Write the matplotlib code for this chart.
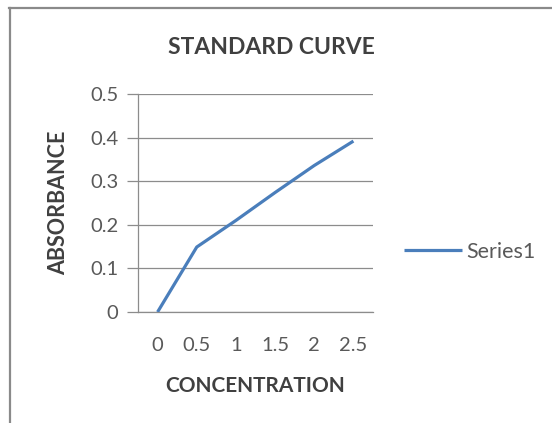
import matplotlib
matplotlib.use("Agg")
import matplotlib.pyplot as plt
from matplotlib.lines import Line2D

plt.rcParams['font.family'] = ['Lato', 'DejaVu Sans']

# Standard curve readings
concentration = ["0", "0.5", "1", "1.5", "2", "2.5"]
absorbance = [0.0, 0.149, 0.21, 0.274, 0.336, 0.392]
y_ticks = [0, 0.1, 0.2, 0.3, 0.4, 0.5]
y_tick_labels = ["0", "0.1", "0.2", "0.3", "0.4", "0.5"]

W, H = 552, 423
fig = plt.figure(figsize=(W / 100, H / 100), dpi=100)
fig.patch.set_facecolor("white")

# plot area in pixel terms
left, right, top, bottom = 138, 373, 94, 312
ax = fig.add_axes([left / W, 1 - bottom / H, (right - left) / W, (bottom - top) / H])

grid_col = "#8c8c8c"
text_col = "#595959"
label_col = "#404040"

pos = list(range(len(concentration)))
ax.plot(pos, absorbance, color="#4a7ebb", lw=2.3, label="Series1",
        solid_capstyle="butt", zorder=3)

ax.set_xlim(-0.5, len(concentration) - 0.5)
ax.set_ylim(0, 0.5)
ax.set_xticks(pos)
ax.set_xticklabels(concentration)
ax.set_yticks(y_ticks)
ax.set_yticklabels(y_tick_labels)

ax.grid(axis="y", color=grid_col, lw=0.9)
ax.set_axisbelow(True)
for side in ("top", "right"):
    ax.spines[side].set_visible(False)
for side in ("left", "bottom"):
    ax.spines[side].set_color(grid_col)
    ax.spines[side].set_linewidth(0.9)

ax.tick_params(axis="y", length=8, width=0.9, color=grid_col, pad=6,
               labelsize=14.5, labelcolor=text_col)
ax.tick_params(axis="x", length=0, pad=18, labelsize=14.5, labelcolor=text_col)

ax.set_ylabel("ABSORBANCE", fontsize=15.5, fontweight="bold", color=label_col, labelpad=15)
ax.set_xlabel("CONCENTRATION", fontsize=15, fontweight="bold", color=label_col, labelpad=16)

fig.text(271 / W, 1 - 48 / H, "STANDARD CURVE", ha="center", va="center",
         fontsize=16.5, fontweight="bold", color=label_col)

fig.legend(loc="center left", bbox_to_anchor=(404 / W, 1 - 252 / H), frameon=False,
           fontsize=15.5, handlelength=2.7, handletextpad=0.2, borderpad=0,
           borderaxespad=0, labelcolor=text_col)

# chart frame edges
fig.add_artist(Line2D([9 / W, 1], [1 - 8.5 / H, 1 - 8.5 / H], color="#8a8a8a", lw=1.6,
                      transform=fig.transFigure))
fig.add_artist(Line2D([9.5 / W, 9.5 / W], [0, 1 - 8.5 / H], color="#8a8a8a", lw=1.6,
                      transform=fig.transFigure))

fig.savefig("out.png", dpi=100)
